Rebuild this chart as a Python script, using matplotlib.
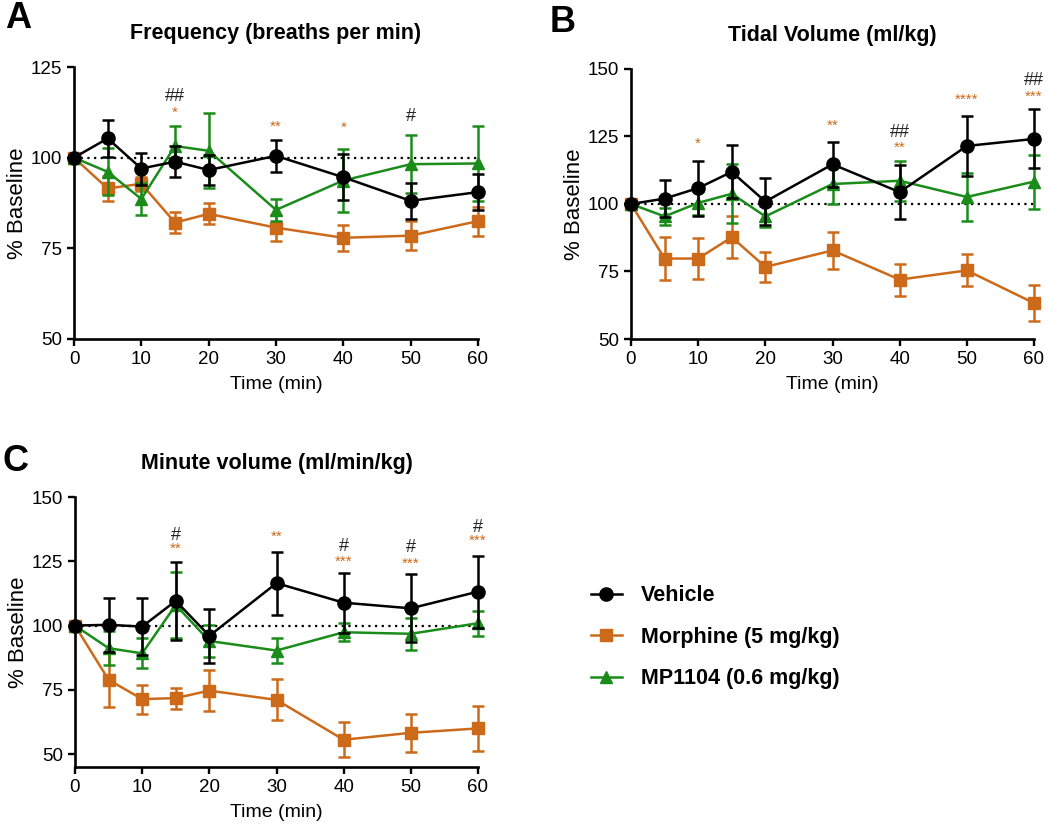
import matplotlib
matplotlib.use("Agg")
import matplotlib.pyplot as plt
from matplotlib.lines import Line2D

plt.rcParams['font.family'] = ['Liberation Sans', 'DejaVu Sans']

time_min = [0, 5, 10, 15, 20, 30, 40, 50, 60]

# Panel A - frequency
freq_vehicle = [100, 105.3, 97.0, 98.9, 96.6, 100.5, 94.6, 88.1, 90.5]
freq_vehicle_sem = [0, 5.0, 4.4, 4.3, 4.0, 4.5, 6.3, 5.0, 5.0]
freq_morphine = [100, 91.5, 92.8, 82.1, 84.5, 80.7, 77.9, 78.5, 82.5]
freq_morphine_sem = [0, 3.4, 2.0, 3.0, 2.9, 3.6, 3.5, 3.9, 4.0]
freq_mp = [100, 96.1, 88.6, 103.2, 101.9, 85.6, 93.7, 98.2, 98.4]
freq_mp_sem = [0, 6.5, 4.3, 5.6, 10.4, 3.0, 8.6, 8.0, 10.3]

# Panel B - tidal volume
tv_vehicle = [100, 102.0, 105.9, 111.9, 100.9, 114.7, 104.4, 121.5, 124.1]
tv_vehicle_sem = [0, 6.9, 10.2, 9.8, 8.8, 8.3, 10.1, 11.2, 10.9]
tv_morphine = [100, 79.8, 79.8, 87.7, 76.7, 82.8, 72.0, 75.4, 63.3]
tv_morphine_sem = [0, 7.9, 7.6, 7.8, 5.5, 6.9, 5.9, 5.9, 6.8]
tv_mp = [100, 95.4, 100.4, 103.8, 95.4, 107.4, 108.6, 102.6, 108.3]
tv_mp_sem = [0, 3.0, 4.5, 11.0, 4.0, 7.4, 7.4, 8.9, 10.0]

# Panel C - minute volume
mv_vehicle = [100, 100.3, 99.6, 109.6, 96.0, 116.5, 108.9, 106.7, 113.2]
mv_vehicle_sem = [0, 10.4, 11.0, 15.3, 10.5, 12.3, 11.7, 13.2, 14.0]
mv_morphine = [100, 78.9, 71.4, 71.8, 74.7, 71.1, 55.6, 58.3, 60.0]
mv_morphine_sem = [0, 10.5, 5.6, 4.1, 8.0, 8.0, 6.9, 7.5, 8.7]
mv_mp = [100, 91.2, 89.2, 108.0, 94.0, 90.3, 97.4, 96.8, 100.9]
mv_mp_sem = [0, 6.5, 5.8, 12.7, 6.3, 4.8, 3.5, 6.3, 4.9]

# significance marks: (time, y, text)
freq_hash = [(15, 116.9, '##'), (50, 111.4, '#')]
freq_star = [(15, 112.5, '*'), (30, 108.6, '**'), (40, 108.3, '*')]
tv_hash = [(40, 126.5, '##'), (60, 145.7, '##')]
tv_star = [(10, 122.3, '*'), (30, 129.0, '**'), (40, 120.7, '**'),
           (50, 138.6, '****'), (60, 139.8, '***')]
mv_hash = [(15, 135.2, '#'), (40, 130.7, '#'), (50, 130.3, '#'), (60, 138.3, '#')]
mv_star = [(15, 129.7, '**'), (30, 134.6, '**'), (40, 124.7, '***'),
           (50, 124.2, '***'), (60, 132.9, '***')]

BLACK = 'black'
ORANGE = '#cc6a1a'
GREEN = '#1a8c1a'

W, H = 1050, 826
fig = plt.figure(figsize=(W / 100, H / 100), dpi=100)


def px_axes(x0, y_top, x1, y_bot):
    return fig.add_axes([x0 / W, 1 - y_bot / H, (x1 - x0) / W, (y_bot - y_top) / H])


def draw_panel(ax, title, veh, veh_e, mor, mor_e, mp, mp_e, ylim, yticks, hashes, stars):
    ax.axhline(100, color='black', linestyle=(0, (1, 2)), linewidth=1.6, zorder=1)
    kw = dict(capsize=4.5, elinewidth=1.8, capthick=1.8, linewidth=1.8, clip_on=False)
    ax.errorbar(time_min, mor, yerr=mor_e, color=ORANGE, marker='s', markersize=8.5, zorder=3, **kw)
    ax.errorbar(time_min, mp, yerr=mp_e, color=GREEN, marker='^', markersize=8.5, zorder=4, **kw)
    ax.errorbar(time_min, veh, yerr=veh_e, color=BLACK, marker='o', markersize=9.5, zorder=5, **kw)
    for x, y, s in hashes:
        ax.text(x, y, s, color='#222222', fontsize=13, ha='center', va='center')
    for x, y, s in stars:
        ax.text(x, y, s, color=ORANGE, fontsize=11, ha='center', va='center')
    ax.set_xlim(0, 60)
    ax.set_ylim(*ylim)
    ax.set_xticks([0, 10, 20, 30, 40, 50, 60])
    ax.set_yticks(yticks)
    for side in ['top', 'right']:
        ax.spines[side].set_visible(False)
    for side in ['left', 'bottom']:
        ax.spines[side].set_linewidth(1.9)
    ax.tick_params(width=1.7, length=5, labelsize=13.5)
    ax.set_xlabel('Time (min)', fontsize=14, labelpad=6)
    ax.set_ylabel('% Baseline', fontsize=16, labelpad=2)
    ax.set_title(title, fontsize=15.5, fontweight='bold', pad=20)


axA = px_axes(74, 67, 478, 339)
draw_panel(axA, 'Frequency (breaths per min)', freq_vehicle, freq_vehicle_sem,
           freq_morphine, freq_morphine_sem, freq_mp, freq_mp_sem,
           (50, 125), [50, 75, 100, 125], freq_hash, freq_star)

axB = px_axes(631, 69, 1034, 339)
draw_panel(axB, 'Tidal Volume (ml/kg)', tv_vehicle, tv_vehicle_sem,
           tv_morphine, tv_morphine_sem, tv_mp, tv_mp_sem,
           (50, 150), [50, 75, 100, 125, 150], tv_hash, tv_star)

axC = px_axes(75, 497, 478, 767)
draw_panel(axC, 'Minute volume (ml/min/kg)', mv_vehicle, mv_vehicle_sem,
           mv_morphine, mv_morphine_sem, mv_mp, mv_mp_sem,
           (45, 150), [50, 75, 100, 125, 150], mv_hash, mv_star)

fig.text(18 / W, 1 - 18 / H, 'A', fontsize=26, fontweight='bold', ha='center', va='center')
fig.text(563 / W, 1 - 22 / H, 'B', fontsize=26, fontweight='bold', ha='center', va='center')
fig.text(16 / W, 1 - 462 / H, 'C', fontsize=26, fontweight='bold', ha='center', va='center')

handles = [
    Line2D([], [], color=BLACK, marker='o', markersize=9.5, linewidth=1.8),
    Line2D([], [], color=ORANGE, marker='s', markersize=8.5, linewidth=1.8),
    Line2D([], [], color=GREEN, marker='^', markersize=8.5, linewidth=1.8),
]
labels = ['Vehicle', 'Morphine (5 mg/kg)', 'MP1104 (0.6 mg/kg)']
fig.legend(handles, labels, loc='upper left', bbox_to_anchor=(572 / W, 1 - 566 / H),
           frameon=False, prop={'size': 15.5, 'weight': 'bold'}, handlelength=1.4,
           labelspacing=0.95, handletextpad=0.9)

fig.savefig('out.png', dpi=100)
